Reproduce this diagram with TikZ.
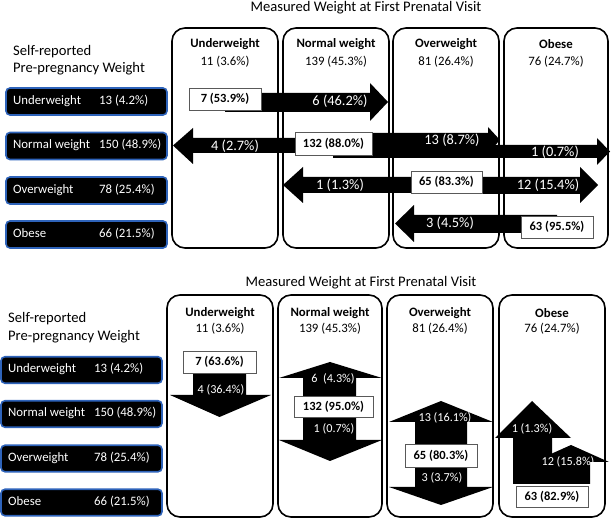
\documentclass[tikz,border=0pt]{standalone}
\usepackage{fontspec}
\setmainfont{Carlito}
\definecolor{selfblue}{RGB}{46,99,186}
\tikzset{
  colbox/.style={draw, line width=1.6pt, rounded corners=13pt},
  selfbox/.style={fill=black, draw=selfblue, line width=1.6pt, rounded corners=4pt},
  boxtext/.style={text=white, inner sep=0pt, text height=9pt, text depth=3pt, font=\fontsize{12.8}{14}\selectfont},
  headtext/.style={inner sep=0pt, font=\fontsize{14.6}{16}\selectfont},
  coltext/.style={inner sep=0pt, font=\fontsize{12.8}{14}\selectfont},
  countbox/.style={draw=black!65, fill=white, line width=0.8pt, inner sep=0pt, font=\bfseries\fontsize{12.5}{14}\selectfont},
  toplbl/.style={text=white, inner sep=0pt, font=\fontsize{14.4}{16}\selectfont},
  botlbl/.style={text=white, inner sep=0pt, font=\fontsize{12.2}{14}\selectfont}
}
\begin{document}
\begin{tikzpicture}[x=1pt, y=-1pt]
\useasboundingbox (0,0) rectangle (611,518);

% ---- upper panel: horizontal flows
\node[headtext] (ttitle) at (366,8) {Measured Weight at First Prenatal Visit};
\node[headtext, anchor=west] (tself) at (13,52) {Self-reported};
\node[headtext, anchor=west] (tpre) at (13,69) {Pre-pregnancy Weight};
\foreach \lab/\cnt/\yc [count=\i] in {Underweight/13 (4.2\%)/101.5, Normal weight/150 (48.9\%)/146,
    Overweight/78 (25.4\%)/190.5, Obese/66 (21.5\%)/234.5}{
  \node[selfbox, minimum width=161pt, minimum height=27pt] (tsr\i) at (86.5,\yc) {};
  \node[boxtext, anchor=west] (tsrl\i) at (13,\yc) {\lab};
  \node[boxtext, anchor=west] (tsrc\i) at (99,\yc) {\cnt};
}
\foreach \nm/\cnt/\xa/\xb [count=\i] in {Underweight/11 (3.6\%)/172/278, Normal weight/139 (45.3\%)/283/389,
    Overweight/81 (26.4\%)/393/499, Obese/76 (24.7\%)/504/608}{
  \draw[colbox] (\xa,28) rectangle (\xb,248);
  \node[coltext, font=\bfseries\fontsize{12.8}{14}\selectfont] (tch\i) at ({(\xa+\xb)/2},44) {\nm};
  \node[coltext] (tcc\i) at ({(\xa+\xb)/2},62) {\cnt};
}
\fill (225,93) -- (370,93) -- (370,83) -- (388,102) -- (370,121) -- (370,112) -- (225,112) -- cycle;
\fill (333,138) -- (193,138) -- (193,128) -- (173,145.5) -- (193,164) -- (193,153) -- (333,153) -- cycle;
\fill (333,133) -- (488,133) -- (488,127) -- (500,140) -- (488,153) -- (488,148) -- (333,148) -- cycle;
\fill (333,145) -- (597,145) -- (597,138) -- (610,151.5) -- (597,165) -- (597,158) -- (333,158) -- cycle;
\fill (446,177) -- (303,177) -- (303,167) -- (283,185) -- (303,203) -- (303,193) -- (446,193) -- cycle;
\fill (446,177) -- (580,177) -- (580,167) -- (598,185) -- (580,203) -- (580,194) -- (446,194) -- cycle;
\fill (557,215) -- (414,215) -- (414,205) -- (395,223.5) -- (414,242) -- (414,233) -- (557,233) -- cycle;
\node[countbox, minimum width=72pt, minimum height=22pt] (tuu) at (225,99) {7 (53.9\%)};
\node[countbox, minimum width=77pt, minimum height=23pt] (tnn) at (333.5,143.5) {132 (88.0\%)};
\node[countbox, minimum width=71pt, minimum height=22pt] (too) at (446.5,182) {65 (83.3\%)};
\node[countbox, minimum width=72pt, minimum height=22pt] (tbb) at (557,227) {63 (95.5\%)};
\node[toplbl] (tun) at (340,101) {6 (46.2\%)};
\node[toplbl] (tnu) at (235,146) {4 (2.7\%)};
\node[toplbl] (tno) at (452,140) {13 (8.7\%)};
\node[toplbl] (tnb) at (555,152) {1 (0.7\%)};
\node[toplbl] (ton) at (340,185) {1 (1.3\%)};
\node[toplbl] (tob) at (548,185) {12 (15.4\%)};
\node[toplbl] (tbo) at (450,223) {3 (4.5\%)};

% ---- lower panel: vertical flows
\node[headtext] (btitle) at (361,283) {Measured Weight at First Prenatal Visit};
\node[headtext, anchor=west] (bself) at (8,319) {Self-reported};
\node[headtext, anchor=west] (bpre) at (8,337) {Pre-pregnancy Weight};
\foreach \lab/\cnt/\yc [count=\i] in {Underweight/13 (4.2\%)/370, Normal weight/150 (48.9\%)/414,
    Overweight/78 (25.4\%)/458.5, Obese/66 (21.5\%)/502.5}{
  \node[selfbox, minimum width=161pt, minimum height=26.5pt] (bsr\i) at (81.5,\yc) {};
  \node[boxtext, anchor=west] (bsrl\i) at (8,\yc) {\lab};
  \node[boxtext, anchor=west] (bsrc\i) at (94,\yc) {\cnt};
}
\foreach \nm/\cnt/\xa/\xb [count=\i] in {Underweight/11 (3.6\%)/167/273, Normal weight/139 (45.3\%)/278/382,
    Overweight/81 (26.4\%)/387/493, Obese/76 (24.7\%)/499/605}{
  \draw[colbox] (\xa,295) rectangle (\xb,517);
  \node[coltext, font=\bfseries\fontsize{12.8}{14}\selectfont] (bch\i) at ({(\xa+\xb)/2},313) {\nm};
  \node[coltext] (bcc\i) at ({(\xa+\xb)/2},329) {\cnt};
}
\fill (193,362) -- (193,395) -- (170,395) -- (219.5,417) -- (271,395) -- (246,395) -- (246,362) -- cycle;
\fill (330,362) -- (382,378) -- (356,378) -- (356,440) -- (382,440) -- (330,461) -- (279,440) -- (303,440) -- (303,378) -- (279,378) -- cycle;
\fill (441,401) -- (493,422) -- (467,422) -- (467,487) -- (493,487) -- (441,505) -- (389,487) -- (415,487) -- (415,422) -- (389,422) -- cycle;
\fill (513,484) -- (513,438) -- (495,438) -- (532,401) -- (571,438) -- (552,438) -- (552,484) -- cycle;
\fill (552,484) -- (552,462) -- (533,462) -- (571,445) -- (609,462) -- (590,462) -- (590,484) -- cycle;
\node[countbox, minimum width=73pt, minimum height=22pt] (buu) at (219.5,362) {7 (63.6\%)};
\node[countbox, minimum width=79pt, minimum height=21pt] (bnn) at (333.5,406.5) {132 (95.0\%)};
\node[countbox, minimum width=72pt, minimum height=23pt] (boo) at (441,455.5) {65 (80.3\%)};
\node[countbox, minimum width=72pt, minimum height=21pt] (bbb) at (552,496.5) {63 (82.9\%)};
\node[botlbl] (bun) at (221,390) {4 (36.4\%)};
\node[botlbl] (bnu) at (333,379) {6\ \ (4.3\%)};
\node[botlbl] (bno) at (334,429) {1 (0.7\%)};
\node[botlbl] (bon) at (445,418) {13 (16.1\%)};
\node[botlbl] (bob) at (442,478) {3 (3.7\%)};
\node[botlbl] (bbo) at (532,429) {1 (1.3\%)};
\node[botlbl] (bbn) at (568,462) {12 (15.8\%)};
\end{tikzpicture}
\end{document}
